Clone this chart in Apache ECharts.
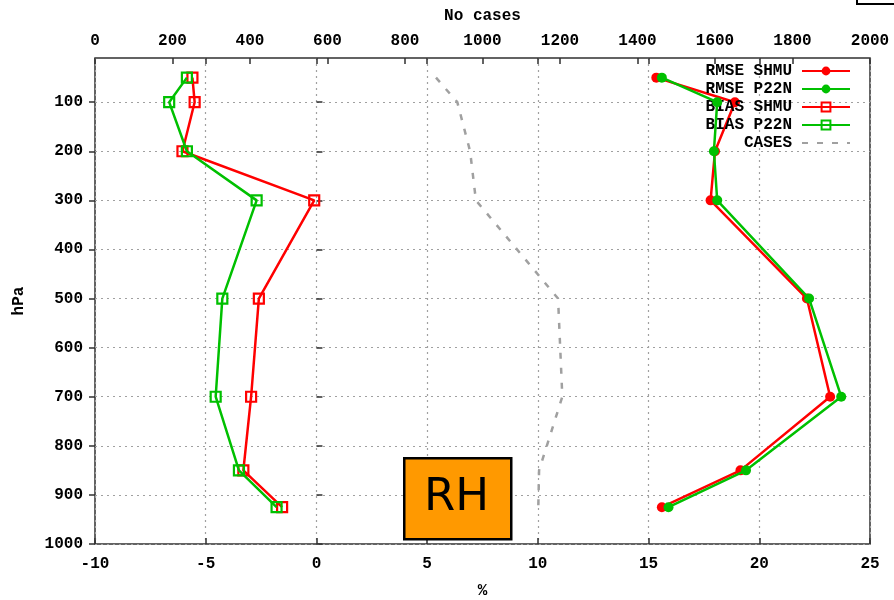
<!DOCTYPE html>
<html>
<head>
<meta charset="utf-8">
<script src="https://cdn.jsdelivr.net/npm/echarts@6/dist/echarts.min.js"></script>
<style>html,body{margin:0;padding:0;background:#fff;}#c{width:894px;height:600px;}</style>
</head>
<body>
<div id="c"></div>
<script>
// pressure levels (hPa)
const levels = [50, 100, 200, 300, 500, 700, 850, 925];
// RMSE and BIAS of relative humidity (%)
const rmseShmu = [15.35, 18.9, 18.0, 17.8, 22.15, 23.2, 19.15, 15.6];
const rmseP22n = [15.6, 18.1, 17.95, 18.1, 22.25, 23.7, 19.4, 15.9];
const biasShmu = [-5.6, -5.5, -6.05, -0.1, -2.6, -2.95, -3.3, -1.55];
const biasP22n = [-5.85, -6.65, -5.85, -2.7, -4.25, -4.55, -3.5, -1.8];
// number of cases
const cases = [880, 935, 968, 983, 1195, 1206, 1146, 1144];
// tick labels
const hpaTicks = [100, 200, 300, 400, 500, 600, 700, 800, 900, 1000];
const seriesNames = ['RMSE SHMU', 'RMSE P22N', 'BIAS SHMU', 'BIAS P22N', 'CASES'];

const RED = '#ff0000', GREEN = '#00c000', GRAY = '#a0a0a0', INK = '#303030';
const FONT = 'Liberation Mono';
const lbl = { fontFamily: FONT, fontWeight: 'bold', fontSize: 16, color: '#000' };
const plain = (v) => String(v);
const gridLine = { show: true, lineStyle: { color: GRAY, type: [2, 4], width: 1.2 } };
const tick = { show: true, inside: true, length: 6, lineStyle: { color: INK, width: 1.5 } };

const pairs = (xs) => levels.map((p, i) => [xs[i], p]);

const chart = echarts.init(document.getElementById('c'), null, { renderer: 'canvas' });
chart.setOption({
  animation: false,
  backgroundColor: '#fff',
  grid: {
    left: 95, right: 24, top: 58, bottom: 56, containLabel: false, outerBoundsMode: 'none',
    show: true, borderColor: INK, borderWidth: 1.5, backgroundColor: 'transparent'
  },
  legend: {
    data: [
      { name: seriesNames[0] }, { name: seriesNames[1] }, { name: seriesNames[2] }, { name: seriesNames[3] },
      { name: seriesNames[4], itemStyle: { opacity: 0 } }
    ],
    orient: 'vertical', right: 43, top: 63, align: 'right',
    padding: 0, itemGap: 2, itemWidth: 48, itemHeight: 11,
    textStyle: Object.assign({}, lbl, { lineHeight: 16, padding: [0, 5, 0, 0] })
  },
  xAxis: [
    {
      type: 'value', position: 'bottom', min: -10, max: 25, interval: 5,
      name: '%', nameLocation: 'middle', nameGap: 39, nameTextStyle: lbl,
      axisLine: { show: false }, axisTick: tick, splitLine: gridLine,
      axisLabel: Object.assign({}, lbl, { margin: 12, formatter: plain })
    },
    {
      type: 'value', position: 'top', min: 0, max: 2000, interval: 200,
      name: 'No cases', nameLocation: 'middle', nameGap: 34, nameTextStyle: lbl,
      axisLine: { show: false }, axisTick: tick, splitLine: { show: false },
      axisLabel: Object.assign({}, lbl, { margin: 9, formatter: plain })
    },
    {
      type: 'value', position: 'top', min: -10, max: 25, interval: 5,
      axisLine: { show: false }, axisTick: tick, splitLine: { show: false },
      axisLabel: { show: false }
    }
  ],
  yAxis: [
    {
      type: 'value', position: 'left', inverse: true, min: 10, max: 1000,
      name: 'hPa', nameLocation: 'middle', nameGap: 68, nameTextStyle: lbl,
      axisLine: { show: false },
      axisTick: Object.assign({}, tick, { customValues: hpaTicks }),
      splitLine: gridLine,
      axisLabel: Object.assign({}, lbl, { margin: 12, customValues: hpaTicks, formatter: plain })
    },
    {
      type: 'value', position: 'right', inverse: true, min: 10, max: 1000,
      axisLine: { show: false },
      axisTick: Object.assign({}, tick, { customValues: hpaTicks }),
      splitLine: { show: false },
      axisLabel: { show: false, customValues: hpaTicks }
    }
  ],
  series: [
    {
      name: seriesNames[0], type: 'line', xAxisIndex: 0, yAxisIndex: 0, data: pairs(rmseShmu),
      symbol: 'circle', symbolSize: 10, lineStyle: { color: RED, width: 2.5 },
      itemStyle: { color: RED }, z: 3
    },
    {
      name: seriesNames[1], type: 'line', xAxisIndex: 0, yAxisIndex: 0, data: pairs(rmseP22n),
      symbol: 'circle', symbolSize: 10, lineStyle: { color: GREEN, width: 2.5 },
      itemStyle: { color: GREEN }, z: 4
    },
    {
      name: seriesNames[2], type: 'line', xAxisIndex: 0, yAxisIndex: 0, data: pairs(biasShmu),
      symbol: 'rect', symbolSize: 10, lineStyle: { color: RED, width: 2.5 },
      itemStyle: { color: 'rgba(255,255,255,0)', borderColor: RED, borderWidth: 2.2 }, z: 3
    },
    {
      name: seriesNames[3], type: 'line', xAxisIndex: 0, yAxisIndex: 0, data: pairs(biasP22n),
      symbol: 'rect', symbolSize: 10, lineStyle: { color: GREEN, width: 2.5 },
      itemStyle: { color: 'rgba(255,255,255,0)', borderColor: GREEN, borderWidth: 2.2 }, z: 4
    },
    {
      name: seriesNames[4], type: 'line', xAxisIndex: 1, yAxisIndex: 0, data: pairs(cases),
      symbol: 'none', lineStyle: { color: GRAY, width: 2.5, type: [6, 9] },
      itemStyle: { color: GRAY }, z: 2
    }
  ],
  graphic: [
    {
      type: 'rect', left: 403, top: 457, z: 100,
      shape: { width: 107, height: 81 },
      style: { fill: '#ff9900', stroke: '#000', lineWidth: 2.5 }
    },
    {
      type: 'text', x: 456.5, y: 498, z: 101,
      style: { text: 'RH', fill: '#000', font: '45px "DejaVu Sans"', align: 'center', verticalAlign: 'middle' }
    },
    {
      type: 'rect', x: 857, y: -10, z: 100,
      shape: { width: 60, height: 14 },
      style: { fill: '#fff', stroke: '#000', lineWidth: 2 }
    }
  ]
});
</script>
</body>
</html>
